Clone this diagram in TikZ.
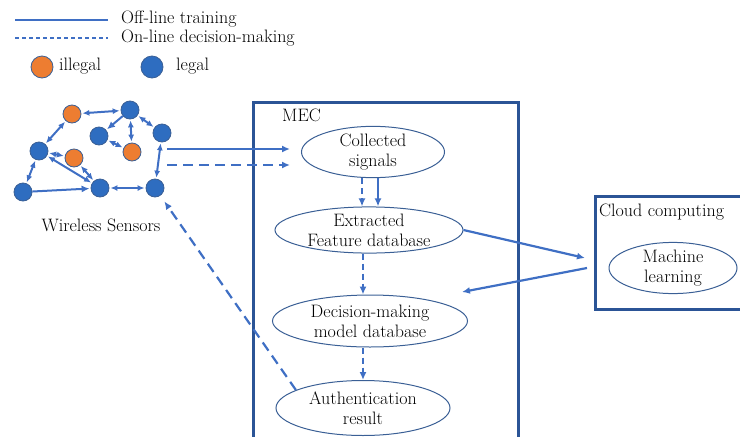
\documentclass[tikz,border=0pt]{standalone}
\usetikzlibrary{arrows.meta, shapes.geometric}

\definecolor{lineblue}{HTML}{3F6FC4}
\definecolor{nodeblue}{HTML}{2E6DC0}
\definecolor{rimblue}{HTML}{3A5F95}
\definecolor{nodeorange}{HTML}{ED7D31}
\definecolor{boxblue}{HTML}{2B5496}

\begin{document}
\begin{tikzpicture}[
		x=1pt, y=-1pt,
		font=\fontsize{18}{20}\selectfont,
		legal/.style={circle, draw=rimblue, line width=0.8pt, fill=nodeblue, minimum size=18pt, inner sep=0pt},
		illegal/.style={legal, fill=nodeorange},
		proc/.style={ellipse, draw=rimblue, line width=1pt, align=center, inner sep=0pt},
		box/.style={draw=boxblue, line width=3pt, anchor=north west, inner sep=0pt},
		arrow/.style={-{Latex[length=8pt, width=7pt]}, lineblue, line width=2.2pt},
		darrow/.style={{Latex[length=7pt, width=6pt]}-{Latex[length=7pt, width=6pt]}, lineblue, line width=2pt, shorten <=1pt, shorten >=1pt},
		dasharrow/.style={arrow, dash pattern=on 10pt off 6pt}
		]
		
		\useasboundingbox (0,0) rectangle (740,437);
		
		% legend
		\coordinate (l1a) at (15,20);
		\coordinate (l1b) at (108,20);
		\coordinate (l2a) at (15,38);
		\coordinate (l2b) at (108,38);
		\draw[lineblue, line width=1.2pt] (l1a) -- (l1b);
		\draw[lineblue, line width=1.2pt, dash pattern=on 4pt off 3pt] (l2a) -- (l2b);
		\node[anchor=west, inner sep=0pt] (offtxt) at (121,19) {Off-line training};
		\node[anchor=west, inner sep=0pt] (ontxt) at (121,38) {On-line decision-making};
		\node[illegal, minimum size=22pt] (keyill) at (42,67) {};
		\node[anchor=west, inner sep=0pt] (illtxt) at (59,66) {illegal};
		\node[legal, minimum size=22pt] (keylegal) at (152,67) {};
		\node[anchor=west, inner sep=0pt] (legtxt) at (176,66) {legal};
		
		% wireless sensors
		\node[illegal] (s1) at (72,114) {};
		\node[legal] (s2) at (130,110) {};
		\node[legal] (s3) at (99,136) {};
		\node[illegal] (s4) at (132,152) {};
		\node[legal] (s5) at (162,133) {};
		\node[legal] (s6) at (39,151) {};
		\node[illegal] (s7) at (74,158) {};
		\node[legal] (s8) at (23,192) {};
		\node[legal] (s9) at (100,188) {};
		\node[legal] (s10) at (155,188) {};
		\node (wsn) at (101,225) {Wireless Sensors};
		
		\draw[darrow] (s1) -- (s2);
		\draw[darrow] (s1) -- (s6);
		\draw[arrow, line width=2pt, shorten >=1pt] (s2) -- (s3);
		\draw[darrow] (s2) -- (s4);
		\draw[darrow] (s3) -- (s4);
		\draw[darrow] (s2) -- (s5);
		\draw[darrow] (s5) -- (s10);
		\draw[darrow] (s6) -- (s7);
		\draw[darrow] (s6) -- (s8);
		\draw[darrow] (s6) -- (s9);
		\draw[darrow] (s7) -- (s9);
		\draw[arrow, line width=2pt, shorten >=1pt] (s8) -- (s9);
		\draw[darrow] (s9) -- (s10);
		
		% MEC
		\node[box, minimum width=265pt, minimum height=350pt] (mec) at (252,101) {};
		\node[anchor=west, inner sep=0pt] (mectxt) at (282,115) {MEC};
		
		\node[proc, minimum width=143pt, minimum height=42pt] (collect) at (373,152) {Collected\\signals};
		\node[proc, minimum width=188pt, minimum height=46pt] (extract) at (369,230) {Extracted\\Feature database};
		\node[proc, minimum width=195pt, minimum height=52pt] (decision) at (370,321) {Decision-making\\model database};
		\node[proc, minimum width=174pt, minimum height=55pt] (auth) at (363,408) {Authentication\\result};
		
		% cloud
		\node[box, minimum width=160pt, minimum height=113pt] (cloud) at (594,195) {};
		\node[anchor=west, inner sep=0pt] (cloudtxt) at (599,212) {Cloud computing};
		\node[proc, minimum width=128pt, minimum height=42pt] (ml) at (673,268) {Machine\\learning};
		
		% connectors
		\coordinate (o1) at (167,149);
		\coordinate (o2) at (167,165);
		\coordinate (in1) at (290,149);
		\coordinate (in2) at (290,165);
		\draw[arrow] (o1) -- (in1);
		\draw[dasharrow] (o2) -- (in2);
		
		\draw[dasharrow, dash pattern=on 6pt off 4pt] ([xshift=-11pt]collect.south) -- ([xshift=-11pt]collect.south |- extract.north);
		\draw[arrow] ([xshift=5pt]collect.south) -- ([xshift=5pt]collect.south |- extract.north);
		\draw[dasharrow, dash pattern=on 6pt off 4pt] ([xshift=-6pt]extract.south) -- ([xshift=-6pt]extract.south |- decision.north);
		\draw[dasharrow, dash pattern=on 6pt off 4pt] ([xshift=-7pt]decision.south) -- ([xshift=-7pt]decision.south |- auth.north);
		
		\coordinate (cin) at (585,258);
		\coordinate (cout) at (587,268);
		\coordinate (din) at (462,292);
		\draw[arrow] (extract.east) -- (cin);
		\draw[arrow] (cout) -- (din);
		
		\draw[dasharrow, shorten >=7pt] (auth.165) -- (s10);
		
	\end{tikzpicture}
\end{document}
